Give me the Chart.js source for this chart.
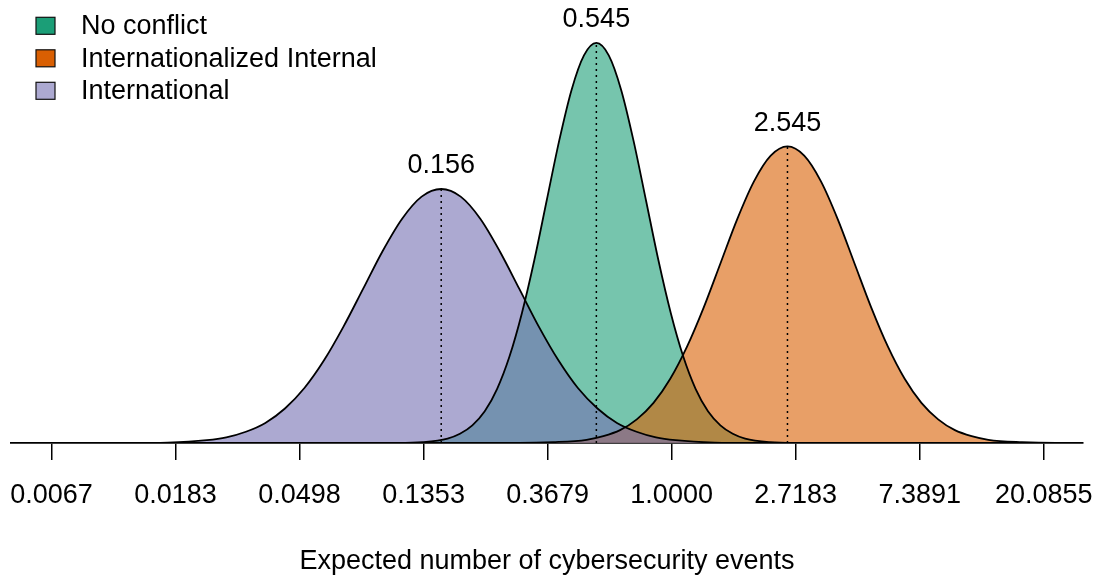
<!DOCTYPE html>
<html>
<head>
<meta charset="utf-8">
<script src="https://cdn.jsdelivr.net/npm/chart.js@4.4.1/dist/chart.umd.min.js"></script>
<style>
  html, body { margin: 0; padding: 0; background: #fff; }
  #wrap { width: 1099px; height: 575px; position: relative; }
</style>
</head>
<body>
<div id="wrap"><canvas id="chart"></canvas></div>
<script>
// x = log(expected number of events), y = curve height
const seriesNames = ['No conflict', 'Internationalized Internal', 'International'];
const peakLabels = ['0.545', '2.545', '0.156'];

const ncX = [-5.3, -2.207, -2.007, -1.807, -1.707, -1.607, -1.507, -1.407, -1.307, -1.207, -1.107, -1.007, -0.907, -0.807, -0.707, -0.607,
             -0.507, -0.407, -0.307, -0.207, -0.107, -0.007, 0.093, 0.193, 0.293, 0.393, 0.493, 0.593, 0.793, 0.993, 3.3];
const ncY = [0, 0.000, 0.002, 0.011, 0.023, 0.044, 0.079, 0.135, 0.216, 0.324, 0.456, 0.605, 0.753, 0.880, 0.966, 0.997,
             0.966, 0.880, 0.753, 0.605, 0.456, 0.324, 0.216, 0.135, 0.079, 0.044, 0.023, 0.011, 0.002, 0.000, 0];

const iiX = [-5.3, -1.226, -0.956, -0.686, -0.551, -0.416, -0.281, -0.146, -0.011, 0.124, 0.259, 0.394, 0.529, 0.664, 0.799, 0.934,
             1.069, 1.204, 1.339, 1.474, 1.609, 1.744, 1.879, 2.014, 2.149, 2.284, 2.419, 2.554, 2.824, 3.094, 3.3];
const iiY = [0, 0.000, 0.002, 0.008, 0.017, 0.032, 0.059, 0.100, 0.160, 0.240, 0.338, 0.448, 0.558, 0.652, 0.716, 0.739,
             0.716, 0.652, 0.558, 0.448, 0.338, 0.240, 0.160, 0.100, 0.059, 0.032, 0.017, 0.008, 0.002, 0.000, 0];

const intX = [-5.3, -4.378, -4.063, -3.748, -3.591, -3.433, -3.276, -3.118, -2.961, -2.803, -2.646, -2.488, -2.331, -2.173, -2.016, -1.858,
              -1.701, -1.543, -1.386, -1.228, -1.071, -0.913, -0.756, -0.598, -0.441, -0.283, -0.126, 0.032, 0.347, 0.662, 3.3];
const intY = [0, 0.000, 0.001, 0.007, 0.014, 0.028, 0.050, 0.086, 0.137, 0.206, 0.290, 0.384, 0.478, 0.559, 0.614, 0.633,
              0.614, 0.559, 0.478, 0.384, 0.290, 0.206, 0.137, 0.086, 0.050, 0.028, 0.014, 0.007, 0.001, 0.000, 0];

const tickValues = [-5, -4, -3, -2, -1, 0, 1, 2, 3];
const tickLabels = ['0.0067', '0.0183', '0.0498', '0.1353', '0.3679', '1.0000', '2.7183', '7.3891', '20.0855'];
const axisTitle = 'Expected number of cybersecurity events';

const fillColors = ['rgba(27,158,119,0.6)', 'rgba(217,95,2,0.6)', 'rgba(117,112,179,0.6)'];
const legendColors = ['#1B9E77', '#D95F02', '#ACA9D1'];
const FONT = '"Liberation Sans", Arial, Helvetica, sans-serif';

Chart.defaults.font.family = FONT;
Chart.defaults.color = '#000';

function toPoints(xs, ys) {
    return xs.map((x, i) => ({ x: x, y: ys[i] }));
}

// dotted line + value at each peak, and the legend in the top-left corner
const overlay = {
    id: 'overlay',
    afterDatasetsDraw(chart) {
        const { ctx, scales: { x, y } } = chart;
        ctx.save();
        chart.data.datasets.forEach((ds) => {
            let top = 0;
            ds.data.forEach((p, j) => { if (p.y > ds.data[top].y) top = j; });
            const pk = ds.data[top];
            const px = x.getPixelForValue(pk.x);
            const py = y.getPixelForValue(pk.y);
            ctx.setLineDash([2, 4]);
            ctx.lineWidth = 1.5;
            ctx.strokeStyle = '#000';
            ctx.beginPath();
            ctx.moveTo(px, y.getPixelForValue(0));
            ctx.lineTo(px, py);
            ctx.stroke();
            ctx.setLineDash([]);
            ctx.font = '27px ' + FONT;
            ctx.textAlign = 'center';
            ctx.textBaseline = 'alphabetic';
            ctx.fillStyle = '#000';
            ctx.fillText(ds.peakLabel, px, py - 15.5);
        });
        ctx.restore();
    },
    afterDraw(chart) {
        const ctx = chart.ctx;
        ctx.save();
        ctx.font = '27px ' + FONT;
        ctx.textAlign = 'left';
        ctx.textBaseline = 'alphabetic';
        seriesNames.forEach((name, i) => {
            const base = 34.3 + 32.5 * i;
            ctx.fillStyle = legendColors[i];
            ctx.fillRect(36, base - 17, 19, 17);
            ctx.strokeStyle = '#111';
            ctx.lineWidth = 1.2;
            ctx.strokeRect(36, base - 17, 19, 17);
            ctx.fillStyle = '#000';
            ctx.fillText(name, 81, base);
        });
        ctx.restore();
    }
};

const common = {
    borderColor: '#000',
    borderWidth: 1.8,
    pointRadius: 0,
    fill: 'origin',
    cubicInterpolationMode: 'monotone'
};

new Chart(document.getElementById('chart'), {
    type: 'line',
    data: {
        datasets: [
            { ...common, label: seriesNames[0], data: toPoints(ncX, ncY), backgroundColor: fillColors[0], order: 3, peakLabel: peakLabels[0] },
            { ...common, label: seriesNames[1], data: toPoints(iiX, iiY), backgroundColor: fillColors[1], order: 2, peakLabel: peakLabels[1] },
            { ...common, label: seriesNames[2], data: toPoints(intX, intY), backgroundColor: fillColors[2], order: 1, peakLabel: peakLabels[2] }
        ]
    },
    options: {
        responsive: true,
        maintainAspectRatio: false,
        animation: false,
        layout: { padding: { left: 11, right: 16, top: 0, bottom: 0 } },
        plugins: {
            legend: { display: false },
            tooltip: { enabled: false },
            filler: { drawTime: 'beforeDatasetsDraw' }
        },
        scales: {
            x: {
                type: 'linear',
                min: -5.327,
                max: 3.317,
                afterBuildTicks: (scale) => { scale.ticks = tickValues.map(v => ({ value: v })); },
                ticks: {
                    callback: (v, i) => tickLabels[i],
                    font: { size: 27, lineHeight: '72px' },
                    color: '#000',
                    padding: 0,
                    maxRotation: 0,
                    autoSkip: false
                },
                grid: { display: true, drawOnChartArea: false, drawTicks: true, tickLength: 17, color: '#000', lineWidth: 1.5 },
                border: { display: true, color: '#000', width: 1.7 },
                title: { display: true, text: axisTitle, font: { size: 27, lineHeight: 1 }, color: '#000', padding: { top: 16, bottom: 0 } }
            },
            y: { display: false, min: 0, max: 1.104 }
        }
    },
    plugins: [overlay]
});
</script>
</body>
</html>
